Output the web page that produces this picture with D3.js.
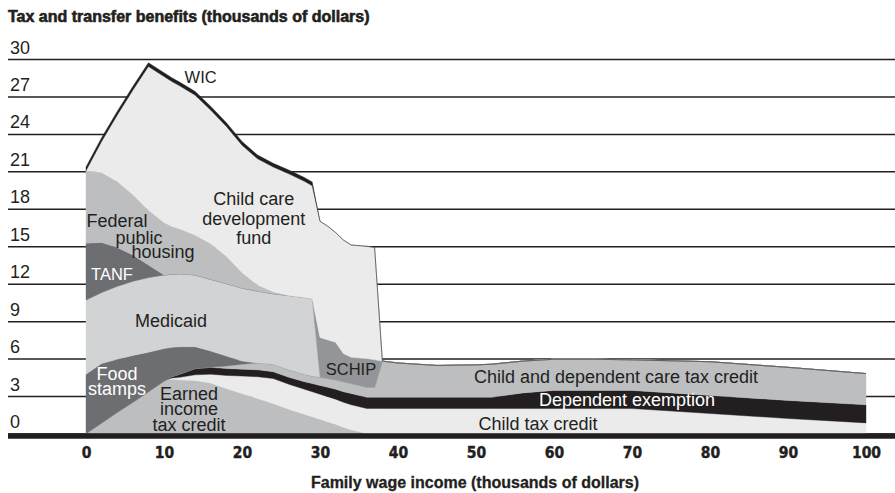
<!DOCTYPE html>
<html>
<head>
<meta charset="utf-8">
<script src="https://cdn.jsdelivr.net/npm/d3@7"></script>
<style>
  body { margin: 0; background: #fff; }
  svg { display: block; }
  text { font-family: "Liberation Sans", Arial, sans-serif; fill: #231f20; }
</style>
</head>
<body>
<svg id="chart"></svg>
<script>
// family wage income (thousands of dollars)
const income = [0, 2, 4, 6, 8, 10, 11, 12, 14, 16, 18, 20, 22, 24, 26, 28, 29, 30, 31, 32, 33, 34, 36, 37, 38, 40, 45, 50, 52, 56, 60, 65, 70, 80, 90, 100];

// benefit values (thousands of dollars), stacked bottom to top
const eitc          = [0, 0.85, 1.7, 2.5, 3.35, 4.2, 4.35, 4.3, 4.25, 4.05, 3.6, 3.2, 2.8, 2.4, 1.95, 1.55, 1.35, 1.15, 0.95, 0.75, 0.5, 0.3, 0, 0, 0, 0, 0, 0, 0, 0, 0, 0, 0, 0, 0, 0];
const childTaxCredit = [0, 0, 0, 0, 0, 0, 0.1, 0.2, 0.45, 0.7, 1.05, 1.4, 1.75, 2, 2, 2, 2, 2, 2, 2, 2, 2, 2, 2, 2, 2, 2, 2, 2, 2, 2, 2, 2, 1.6, 1.2, 0.85];
const depExemption  = [0, 0, 0, 0, 0, 0, 0.1, 0.25, 0.5, 0.55, 0.55, 0.55, 0.55, 0.55, 0.55, 0.6, 0.65, 0.7, 0.75, 0.8, 0.85, 0.9, 0.9, 0.9, 0.9, 0.9, 0.9, 0.9, 0.9, 1.25, 1.45, 1.45, 1.45, 1.45, 1.45, 1.45];
const careTaxCredit = [0, 0, 0, 0, 0, 0, 0, 0, 0, 0, 0.2, 0.4, 0.55, 0.6, 0.6, 0.6, 0.6, 0.65, 0.7, 0.75, 0.8, 0.8, 0.8, 0.8, 2.9, 2.75, 2.55, 2.6, 2.65, 2.55, 2.5, 2.5, 2.45, 2.7, 2.65, 2.5];
const foodStamps    = [4.75, 4.75, 4.25, 3.75, 3.15, 2.6, 2.35, 2.2, 1.75, 1.3, 0.8, 0.25, 0, 0, 0, 0, 0, 0, 0, 0, 0, 0, 0, 0, 0, 0, 0, 0, 0, 0, 0, 0, 0, 0, 0, 0];
const medicaid      = [5.95, 5.7, 5.85, 5.95, 6, 5.9, 5.85, 5.85, 5.75, 5.75, 5.8, 5.85, 5.75, 5.65, 5.95, 6.15, 6.2, 0, 0, 0, 0, 0, 0, 0, 0, 0, 0, 0, 0, 0, 0, 0, 0, 0, 0, 0];
const schip         = [0, 0, 0, 0, 0, 0, 0, 0, 0, 0, 0, 0, 0, 0, 0, 0, 0, 3.2, 3.1, 3, 2.25, 2.1, 2.3, 2.2, 0, 0, 0, 0, 0, 0, 0, 0, 0, 0, 0, 0];
const tanf          = [4.55, 4, 3.1, 2.1, 1, 0, 0, 0, 0, 0, 0, 0, 0, 0, 0, 0, 0, 0, 0, 0, 0, 0, 0, 0, 0, 0, 0, 0, 0, 0, 0, 0, 0, 0, 0, 0];
const publicHousing = [5.8, 5.6, 5.3, 4.85, 4.4, 4.2, 3.85, 3.6, 3.2, 2.85, 2.2, 1.25, 0.5, 0.15, 0, 0, 0, 0, 0, 0, 0, 0, 0, 0, 0, 0, 0, 0, 0, 0, 0, 0, 0, 0, 0, 0];
const childCareFund = [0, 2.5, 5.3, 8.35, 11.5, 11.7, 11.6, 11.45, 11.2, 10.7, 10.4, 10.2, 10.1, 10, 9.75, 9.3, 9.05, 9.3, 9.1, 8.8, 9.1, 9, 9, 9, 0, 0, 0, 0, 0, 0, 0, 0, 0, 0, 0, 0];
const wic           = [0.3, 0.3, 0.3, 0.3, 0.3, 0.3, 0.3, 0.3, 0.3, 0.3, 0.3, 0.3, 0.3, 0.3, 0.3, 0.3, 0.3, 0, 0, 0, 0, 0, 0, 0, 0, 0, 0, 0, 0, 0, 0, 0, 0, 0, 0, 0];

const yTicks = [0, 3, 6, 9, 12, 15, 18, 21, 24, 27, 30];
const xTicks = [0, 10, 20, 30, 40, 50, 60, 70, 80, 90, 100];

const keys = ["eitc", "childTaxCredit", "depExemption", "careTaxCredit", "foodStamps",
  "medicaid", "schip", "tanf", "publicHousing", "childCareFund", "wic"];
const seriesData = { eitc, childTaxCredit, depExemption, careTaxCredit, foodStamps,
  medicaid, schip, tanf, publicHousing, childCareFund, wic };

const colors = {
  eitc: "#bcbec0", childTaxCredit: "#ebebec", depExemption: "#231f20",
  careTaxCredit: "#bcbec0", foodStamps: "#6d6e71", medicaid: "#d1d3d4",
  schip: "#939598", tanf: "#6d6e71", publicHousing: "#bcbec0",
  childCareFund: "#ebebec", wic: "#231f20"
};

// labels placed in data units (income, benefit) at the text baseline
const annotations = [
  { lines: ["WIC"], x: 14.7, y: 28.1, size: 16.5 },
  { lines: ["Child care", "development", "fund"], x: 21.5, y: 18.3 },
  { lines: ["Federal"], x: 3.97, y: 16.54 },
  { lines: ["public"], x: 6.8, y: 15.18 },
  { lines: ["housing"], x: 9.87, y: 14.06 },
  { lines: ["TANF"], x: 3.33, y: 12.3, size: 16.5, white: true },
  { lines: ["Medicaid"], x: 10.9, y: 8.53 },
  { lines: ["Food"], x: 3.97, y: 4.29, white: true },
  { lines: ["stamps"], x: 3.97, y: 3.1, white: true },
  { lines: ["Earned"], x: 13.2, y: 2.68 },
  { lines: ["income"], x: 13.2, y: 1.45 },
  { lines: ["tax credit"], x: 13.2, y: 0.2 },
  { lines: ["SCHIP"], x: 33.97, y: 4.69, size: 16.5 },
  { lines: ["Child and dependent care tax credit"], x: 67.95, y: 4.05 },
  { lines: ["Dependent exemption"], x: 69.36, y: 2.2, white: true },
  { lines: ["Child tax credit"], x: 57.95, y: 0.28 }
];

const wSvg = 895;
const hSvg = 493;

const svg = d3.select("#chart")
  .attr("width", wSvg)
  .attr("height", hSvg);

const x = d3.scaleLinear().domain([0, 100]).range([86, 866]);
const y = d3.scaleLinear().domain([0, 30]).range([433.5, 59]);

// title
svg.append("text")
  .attr("x", 8)
  .attr("y", 22)
  .style("font-size", "16px")
  .style("font-weight", "bold")
  .style("stroke", "#231f20")
  .style("stroke-width", 0.6)
  .text("Tax and transfer benefits (thousands of dollars)");

// horizontal grid + labels
const yAxis = svg.append("g")
  .attr("transform", "translate(8,0)")
  .call(d3.axisRight(y).tickValues(yTicks).tickSize(887).tickFormat(d3.format("d")));
yAxis.select(".domain").remove();
yAxis.selectAll("line").attr("stroke", "#231f20").attr("stroke-width", 1.5);
yAxis.selectAll("text")
  .attr("x", 2)
  .attr("dy", -6)
  .attr("text-anchor", "start")
  .attr("font-family", null)
  .attr("font-size", null)
  .style("font-size", "18px");

// stacked areas
const rows = income.map((inc, i) => {
  let row = { income: inc };
  for (let k of keys) row[k] = seriesData[k][i];
  return row;
});

const stacked = d3.stack().keys(keys)(rows);

const area = d3.area()
  .x(d => x(d.data.income))
  .y0(d => y(d[0]))
  .y1(d => y(d[1]));

svg.append("g")
  .selectAll("path")
  .data(stacked)
  .enter()
  .append("path")
  .attr("d", area)
  .attr("fill", d => colors[d.key])
  .attr("stroke", d => colors[d.key])
  .attr("stroke-width", 0.4);

// thick baseline
svg.append("line")
  .attr("x1", 8).attr("x2", wSvg)
  .attr("y1", y(0) + 2.5).attr("y2", y(0) + 2.5)
  .attr("stroke", "#231f20")
  .attr("stroke-width", 5.5);

// x axis
const xAxis = svg.append("g")
  .attr("transform", `translate(0, 443)`)
  .call(d3.axisBottom(x).tickValues(xTicks).tickSize(0).tickPadding(4));
xAxis.select(".domain").remove();
xAxis.selectAll("text")
  .attr("font-family", null)
  .attr("font-size", null)
  .style("font-size", "15.5px")
  .style("font-weight", "bold")
  .style("stroke", "#231f20")
  .style("stroke-width", 0.4)
  .style("font-family", "'Liberation Sans Narrow', 'DejaVu Sans Condensed', 'Liberation Sans', Arial, sans-serif");

svg.append("text")
  .attr("x", 475)
  .attr("y", 488)
  .attr("text-anchor", "middle")
  .style("font-size", "16px")
  .style("font-weight", "bold")
  .style("stroke", "#231f20")
  .style("stroke-width", 0.3)
  .text("Family wage income (thousands of dollars)");

// series labels
const labels = svg.append("g");
for (let a of annotations) {
  let t = labels.append("text")
    .attr("x", x(a.x))
    .attr("y", y(a.y))
    .attr("text-anchor", "middle")
    .style("font-size", (a.size || 18) + "px")
    .style("fill", a.white ? "#fff" : "#231f20");
  a.lines.forEach((line, i) => {
    t.append("tspan")
      .attr("x", x(a.x))
      .attr("dy", i === 0 ? 0 : 19.5)
      .text(line);
  });
}
</script>
</body>
</html>
